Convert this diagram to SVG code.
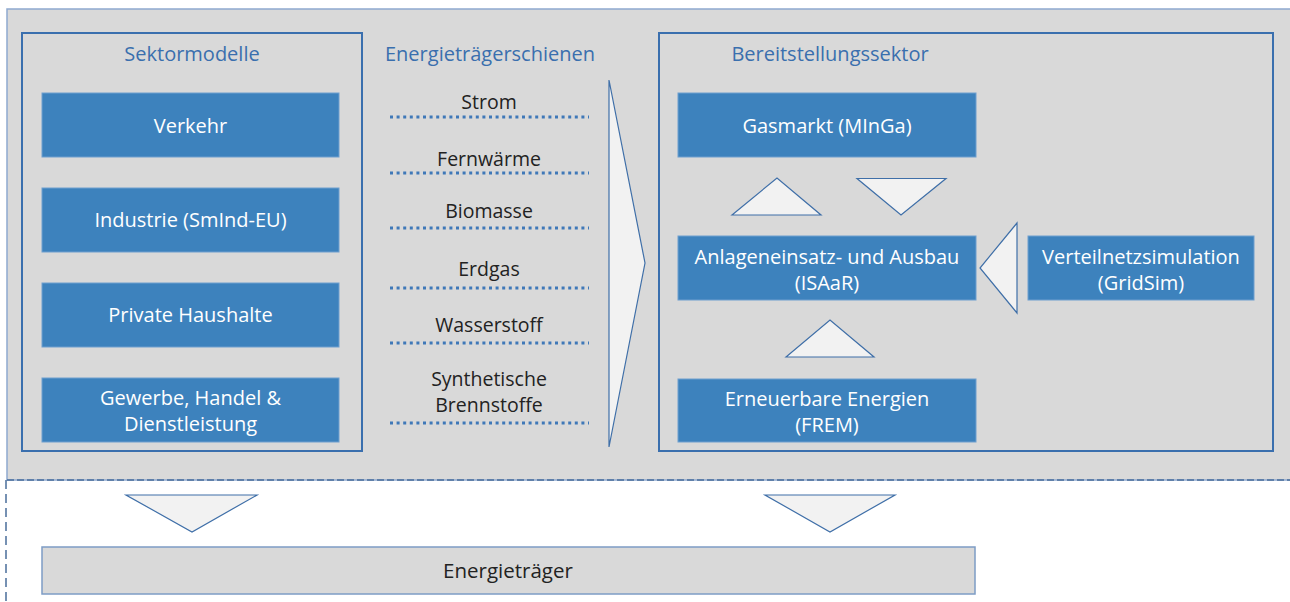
<svg xmlns="http://www.w3.org/2000/svg" width="1290" height="602" viewBox="0 0 1290 602">
<style>
text{font-family:"Open Sans","Noto Sans","DejaVu Sans",sans-serif}
.bg{fill:#d9d9d9;stroke:#8fa9cf;stroke-width:1.5}
.frame{fill:none;stroke:#3a6fae;stroke-width:2}
.box{fill:#3d82bd;stroke:#6f9fcf;stroke-width:1}
.bt{fill:#fff;font-size:20px;text-anchor:middle}
.title{fill:#3a6fae;font-size:20px;text-anchor:middle}
.lab{fill:#222;font-size:19.5px;text-anchor:middle}
.dots{stroke:#3f78b8;stroke-width:3;stroke-dasharray:3 3.6;fill:none}
.tri{fill:#f2f2f2;stroke:#3f6fa8;stroke-width:1.2;stroke-linejoin:miter}
.dash{stroke:#4a6d9a;stroke-width:1.5;stroke-dasharray:7 3;fill:none}
.ebox{fill:#d9d9d9;stroke:#7d9cc5;stroke-width:1.5}
</style>
<rect class="bg" x="7" y="9" width="1300" height="471"/>
<line class="dash" x1="7" y1="480" x2="1290" y2="480"/>
<line class="dash" x1="6" y1="480" x2="6" y2="602" style="stroke-dasharray:9 5"/>

<g id="sektormodelle">
<rect class="frame" x="22" y="33" width="340" height="418"/>
<text class="title" x="192" y="61">Sektormodelle</text>
</g>
<g id="verkehr"><rect class="box" x="42" y="93" width="297" height="64"/><text class="bt" x="190.5" y="133">Verkehr</text></g>
<g id="industrie"><rect class="box" x="42" y="188" width="297" height="64"/><text class="bt" x="190.5" y="227">Industrie (SmInd-EU)</text></g>
<g id="haushalte"><rect class="box" x="42" y="283" width="297" height="64"/><text class="bt" x="190.5" y="322">Private Haushalte</text></g>
<g id="ghd"><rect class="box" x="42" y="378" width="297" height="64"/><text class="bt" x="190.5" y="405">Gewerbe, Handel &amp;</text><text class="bt" x="190.5" y="431">Dienstleistung</text></g>

<g id="energietraegerschienen">
<text class="title" x="490" y="61">Energieträgerschienen</text>
<text class="lab" x="489" y="109">Strom</text>
<text class="lab" x="489" y="166">Fernwärme</text>
<text class="lab" x="489" y="218">Biomasse</text>
<text class="lab" x="489" y="276">Erdgas</text>
<text class="lab" x="489" y="332">Wasserstoff</text>
<text class="lab" x="489" y="386">Synthetische</text>
<text class="lab" x="489" y="412">Brennstoffe</text>
</g>

<g id="bereitstellungssektor">
<rect class="frame" x="659" y="33" width="614" height="418"/>
<text class="title" x="830" y="61">Bereitstellungssektor</text>
</g>
<g id="gasmarkt"><rect class="box" x="678" y="93" width="298" height="64"/><text class="bt" x="827" y="133">Gasmarkt (MInGa)</text></g>
<g id="isaar"><rect class="box" x="678" y="236" width="298" height="64"/><text class="bt" x="827" y="264">Anlageneinsatz- und Ausbau</text><text class="bt" x="827" y="290">(ISAaR)</text></g>
<g id="gridsim"><rect class="box" x="1028" y="236" width="226" height="64"/><text class="bt" x="1141" y="264">Verteilnetzsimulation</text><text class="bt" x="1141" y="290">(GridSim)</text></g>
<g id="frem"><rect class="box" x="678" y="379" width="298" height="63"/><text class="bt" x="827" y="406">Erneuerbare Energien</text><text class="bt" x="827" y="432">(FREM)</text></g>
<g id="energietraeger"><rect class="ebox" x="42" y="547" width="933" height="47"/><text class="lab" x="508" y="578" style="font-size:20.5px">Energieträger</text></g>

<g id="connectors">
<line class="dots" x1="390" y1="117" x2="589" y2="117"/>
<line class="dots" x1="390" y1="173" x2="589" y2="173"/>
<line class="dots" x1="390" y1="228" x2="589" y2="228"/>
<line class="dots" x1="390" y1="288" x2="589" y2="288"/>
<line class="dots" x1="390" y1="343" x2="589" y2="343"/>
<line class="dots" x1="390" y1="423" x2="589" y2="423"/>
<polygon class="tri" points="609,80 645,263 609,447"/>
<polygon class="tri" points="732,215 777,178 821,215"/>
<polygon class="tri" points="857,178.5 946,178.5 901,215"/>
<polygon class="tri" points="1017,223 980,268 1017,313"/>
<polygon class="tri" points="786,357 830,320 874,357"/>
<polygon class="tri" points="126,495 257,495 192,532"/>
<polygon class="tri" points="765,495 895,495 830,532"/>
</g>
</svg>
